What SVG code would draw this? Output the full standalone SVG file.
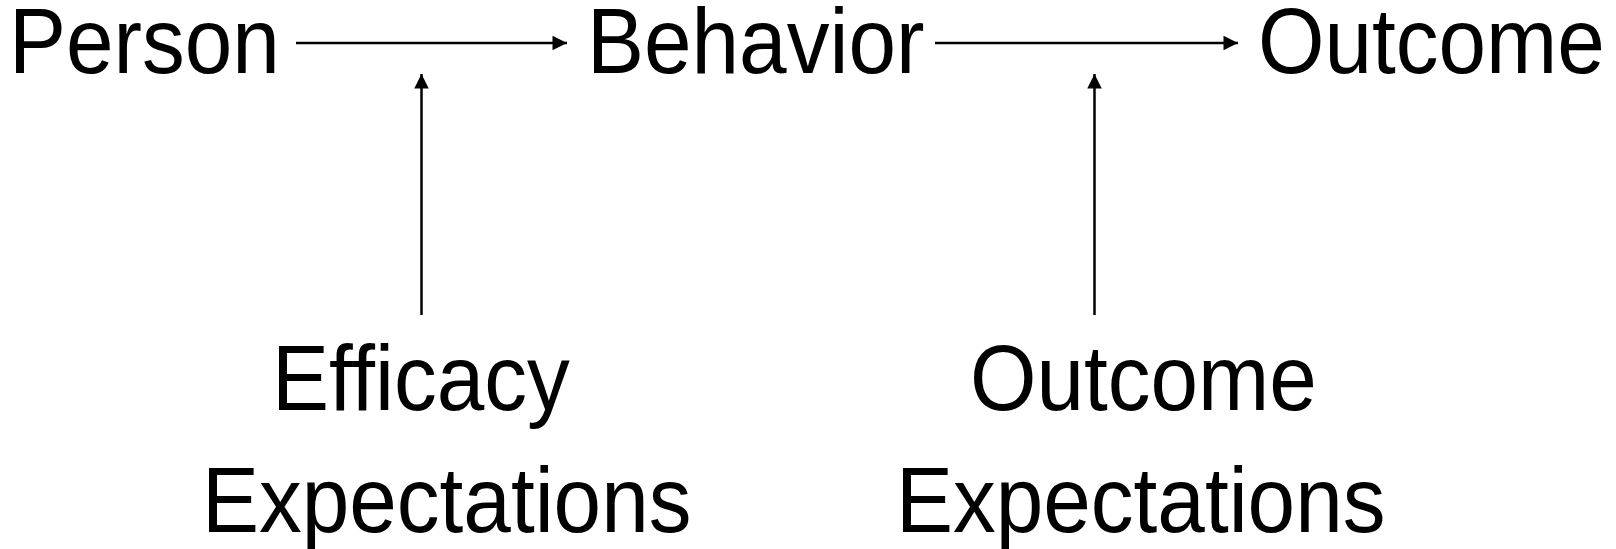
<svg xmlns="http://www.w3.org/2000/svg" width="1616" height="549" viewBox="0 0 1616 549">
  <style>
    .lbl { font-family: "Liberation Sans", Arial, sans-serif; font-size: 85.5px; fill: #000; }
    .conn { stroke: #000; stroke-width: 2.5; fill: none; }
  </style>
  <defs>
    <marker id="arrow" viewBox="0 0 10 10" refX="10" refY="5" markerWidth="6.4" markerHeight="5.8" markerUnits="strokeWidth" orient="auto">
      <path d="M0,0 L10,5 L0,10 Z" fill="#000"/>
    </marker>
  </defs>
  <rect width="1616" height="549" fill="#fff"/>

  <g id="connectors">
    <line class="conn" x1="296" y1="43" x2="567" y2="43" marker-end="url(#arrow)"/>
    <line class="conn" x1="935" y1="43" x2="1238" y2="43" marker-end="url(#arrow)"/>
    <line class="conn" x1="421.5" y1="315" x2="421.5" y2="74" marker-end="url(#arrow)"/>
    <line class="conn" x1="1094.5" y1="315" x2="1094.5" y2="74" marker-end="url(#arrow)"/>
  </g>

  <!-- labels are drawn slightly taller than their width (vertical scale 1.08 about the baseline) -->
  <g id="person"><text class="lbl" transform="translate(9,73) scale(1,1.08)">Person</text></g>
  <g id="behavior"><text class="lbl" transform="translate(587,73) scale(1,1.08)">Behavior</text></g>
  <g id="outcome"><text class="lbl" transform="translate(1258,73) scale(1,1.08)">Outcome</text></g>
  <g id="efficacy-expectations">
    <text class="lbl" transform="translate(272,410) scale(1,1.08)">Efficacy</text>
    <text class="lbl" transform="translate(202,532) scale(1,1.08)">Expectations</text>
  </g>
  <g id="outcome-expectations">
    <text class="lbl" transform="translate(970,410) scale(1,1.08)">Outcome</text>
    <text class="lbl" transform="translate(896,532) scale(1,1.08)">Expectations</text>
  </g>
</svg>
